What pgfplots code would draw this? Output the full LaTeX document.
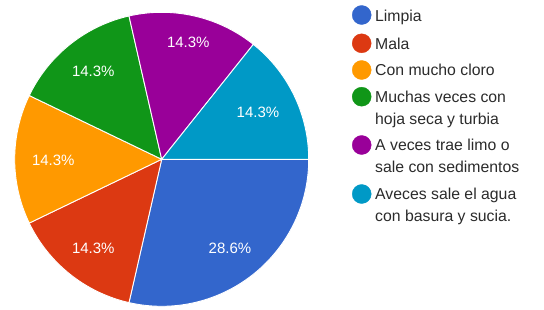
\documentclass[border=0pt]{standalone}
\usepackage{fontspec}
\setmainfont{Liberation Sans}
\usepackage{pgfplots}
\pgfplotsset{compat=1.18}
\definecolor{cBlue}{HTML}{3366CC}
\definecolor{cRed}{HTML}{DC3912}
\definecolor{cOrange}{HTML}{FF9900}
\definecolor{cGreen}{HTML}{109618}
\definecolor{cPurple}{HTML}{990099}
\definecolor{cTeal}{HTML}{0099C6}
\definecolor{txt}{HTML}{2B2B2B}
% counts: Limpia 2, Mala 1, Con mucho cloro 1, Muchas veces 1, A veces 1, Aveces 1 (total 7)
% slice angles (clockwise from 3 o'clock): 360*count/7
\newcommand{\slice}[3]{\addplot[fill=#3, draw=white, line width=0.9bp, domain=#1:#2, samples=90, variable=\t] ({161.7+147*cos(\t)},{150.7+147*sin(\t)}) -- (axis cs:161.7,150.7) -- cycle;}
\newcommand{\legdot}[2]{\addplot[only marks, mark=*, mark size=9.5bp, mark options={fill=#1, draw=#1}] coordinates {(361.7,#2)};}
\begin{document}
\begin{tikzpicture}
\begin{axis}[
  scale only axis, width=544bp, height=310bp,
  xmin=0, xmax=544, ymin=0, ymax=310,
  hide axis, clip=false,
]
\slice{-102.857}{0}{cBlue}
\slice{-154.286}{-102.857}{cRed}
\slice{-205.714}{-154.286}{cOrange}
\slice{-257.143}{-205.714}{cGreen}
\slice{-308.571}{-257.143}{cPurple}
\slice{-360}{-308.571}{cTeal}
\begin{scope}[every node/.style={text=white, font=\fontsize{15bp}{18bp}\selectfont}]
\node at (axis cs:230,62) {28.6\%};
\node at (axis cs:93.3,61.7) {14.3\%};
\node at (axis cs:53.3,150) {14.3\%};
\node at (axis cs:93.3,238.3) {14.3\%};
\node at (axis cs:188.3,268) {14.3\%};
\node at (axis cs:258,198) {14.3\%};
\end{scope}
\legdot{cBlue}{295}
\legdot{cRed}{266.7}
\legdot{cOrange}{240}
\legdot{cGreen}{213.3}
\legdot{cPurple}{165}
\legdot{cTeal}{116}
\begin{scope}[every node/.style={text=txt, anchor=base west, inner sep=0pt, font=\fontsize{15.8bp}{18bp}\selectfont}]
\node at (axis cs:375,289) {Limpia};
\node at (axis cs:375,261) {Mala};
\node at (axis cs:375,234.3) {Con mucho cloro};
\node at (axis cs:375,207.6) {Muchas veces con};
\node at (axis cs:375,185.6) {hoja seca y turbia};
\node at (axis cs:375,159.3) {A veces trae limo o};
\node at (axis cs:375,137.3) {sale con sedimentos};
\node at (axis cs:375,110.3) {Aveces sale el agua};
\node at (axis cs:375,88.3) {con basura y sucia.};
\end{scope}
\end{axis}
\path[use as bounding box] (current axis.south west) rectangle (current axis.north east);
\end{tikzpicture}
\end{document}
